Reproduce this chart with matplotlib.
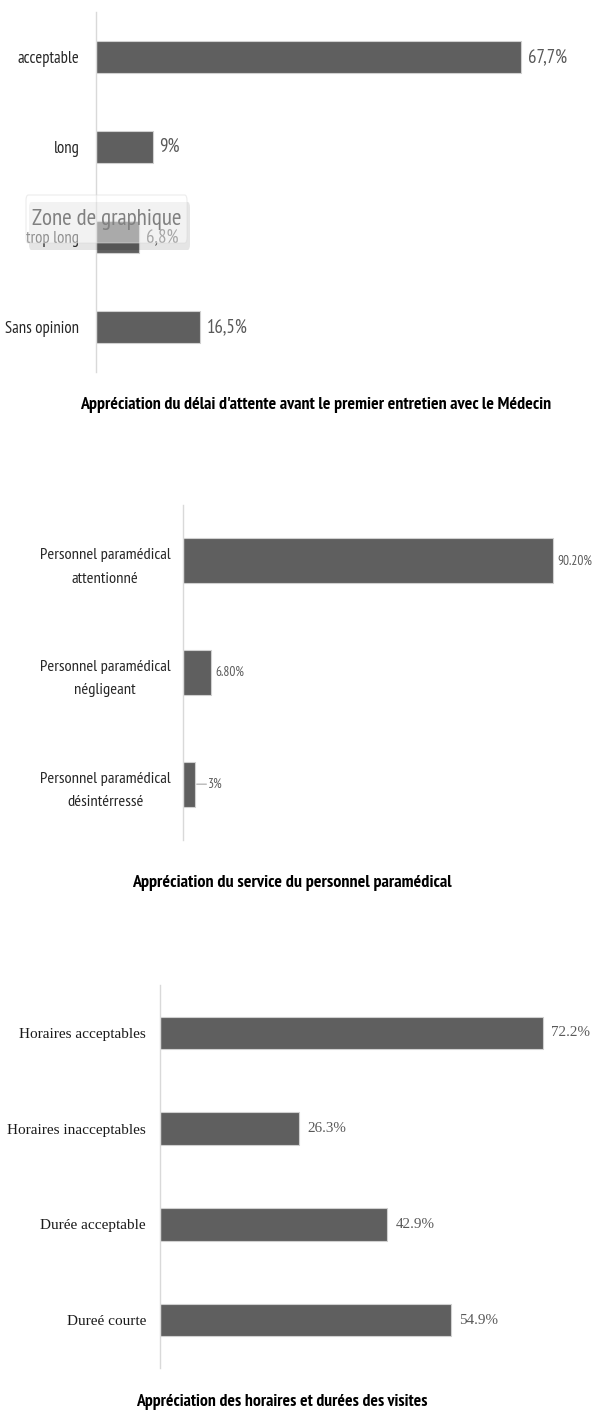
import matplotlib
matplotlib.use("Agg")
import matplotlib.pyplot as plt
from matplotlib.patches import FancyBboxPatch

W, H = 592, 1414

# ---------------- data ----------------
cats1 = ["acceptable", "long", "trop long", "Sans opinion"]
vals1 = [67.7, 9, 6.8, 16.5]
labs1 = ["67,7%", "9%", "6,8%", "16,5%"]
title1 = "Appréciation du délai d'attente avant le premier entretien avec le Médecin"

cats2 = ["Personnel paramédical\nattentionné", "Personnel paramédical\nnégligeant",
         "Personnel paramédical\ndésintérressé"]
vals2 = [90.2, 6.8, 3]
labs2 = ["90.20%", "6.80%", "3%"]
title2 = "Appréciation du service du personnel paramédical"

cats3 = ["Horaires acceptables", "Horaires inacceptables", "Durée acceptable", "Dureé courte"]
vals3 = [72.2, 26.3, 42.9, 54.9]
labs3 = ["72.2%", "26.3%", "42.9%", "54.9%"]
title3 = "Appréciation des horaires et durées des visites"

NARROW = ["PT Sans Narrow", "Liberation Sans Narrow", "DejaVu Sans"]
SERIF = ["Liberation Serif", "DejaVu Serif"]
BAR = "#5f5f5f"
EDGE = "#d0d0d0"
AXC = "#d9d9d9"
LABC = "#595959"

fig = plt.figure(figsize=(W / 100, H / 100), dpi=100)
fig.patch.set_facecolor("white")
renderer = fig.canvas.get_renderer()


def rect(left, top, right, bottom):
    return [left / W, 1 - bottom / H, (right - left) / W, (bottom - top) / H]


def fit_size(text_artist, target_px):
    bb = text_artist.get_window_extent(renderer)
    return text_artist.get_fontsize() * target_px / bb.width


def make_chart(r, cats, vals, labs, xmax, bar_h, cat_font, lab_font, lab_off, tick_pad,
               ref_cat, cat_px, ref_lab, lab_px, cat_color, linespacing=1.2):
    ax = fig.add_axes(r)
    y = list(range(len(cats)))
    ax.barh(y, vals, height=bar_h, color=BAR, edgecolor=EDGE, linewidth=0.8)
    ax.set_xlim(0, xmax)
    ax.set_ylim(len(cats) - 0.5, -0.5)
    for s in ["top", "right", "bottom"]:
        ax.spines[s].set_visible(False)
    ax.spines["left"].set_color(AXC)
    ax.spines["left"].set_linewidth(1.0)
    ax.set_xticks([])
    ax.set_yticks(y)
    ax.set_yticklabels(cats, family=cat_font, fontsize=10, color=cat_color)
    tls = ax.get_yticklabels()
    size = fit_size(tls[ref_cat], cat_px)
    for t in tls:
        t.set_fontsize(size)
        t.set_multialignment("center")
        t.set_linespacing(linespacing)
    ax.tick_params(axis="y", length=0, pad=tick_pad)
    texts = []
    for yi, v, l in zip(y, vals, labs):
        texts.append(ax.annotate(l, (v, yi), xytext=(lab_off, 0), textcoords="offset points",
                                 ha="left", va="center", family=lab_font, fontsize=10,
                                 color=LABC))
    lsize = fit_size(texts[ref_lab], lab_px)
    for t in texts:
        t.set_fontsize(lsize)
    return ax, texts


def title(x, y, s, px):
    t = fig.text(x / W, 1 - y / H, s, ha="center", va="center", family=NARROW,
                 fontsize=10, fontweight="bold", color="black")
    t.set_fontsize(fit_size(t, px))
    return t


# chart 1
ax1, t1 = make_chart(rect(96, 12, 592, 372), cats1, vals1, labs1, 496 / 6.28, 0.35,
                     NARROW, NARROW, 5, 12, 0, 62, 0, 39, "#262626")
title(316, 405, title1, 474)

# tooltip "Zone de graphique"
shadow = FancyBboxPatch((29 / W, 1 - 250 / H), 161 / W, 48 / H,
                        boxstyle="round,pad=0,rounding_size=0.004",
                        transform=fig.transFigure, facecolor="#000000", alpha=0.10,
                        edgecolor="none", zorder=10)
fig.add_artist(shadow)
box = FancyBboxPatch((26 / W, 1 - 243 / H), 161 / W, 48 / H,
                     boxstyle="round,pad=0,rounding_size=0.004",
                     transform=fig.transFigure, facecolor="white", alpha=0.5,
                     edgecolor="#d9d9d9", linewidth=0.8, zorder=11)
fig.add_artist(box)
zt = fig.text(107 / W, 1 - 220 / H, "Zone de graphique", ha="center", va="center",
              family=NARROW, fontsize=14, color="#808080", zorder=12)
zt.set_fontsize(fit_size(zt, 150))

# chart 2
ax2, t2 = make_chart(rect(183, 505, 592, 840), cats2, vals2, labs2, 409 / 4.1, 0.40,
                     NARROW, NARROW, 3, 9, 0, 130, 1, 29, "#262626", linespacing=1.85)
# leader line for the small 3% label
t2[2].set_position((9, 0))
ax2.annotate("", xy=(vals2[2], 2), xytext=(8, 0), textcoords="offset points",
             arrowprops=dict(arrowstyle="-", color="#a6a6a6", lw=0.8,
                             shrinkA=0, shrinkB=1))
title(292, 883, title2, 321)

# chart 3
ax3, t3 = make_chart(rect(160, 985, 592, 1368), cats3, vals3, labs3, 432 / 5.3, 0.34,
                     SERIF, SERIF, 6, 10, 1, 138, 0, 39, "#1a1a1a")
title(282, 1402, title3, 293)

fig.savefig("out.png", dpi=100, facecolor="white")
